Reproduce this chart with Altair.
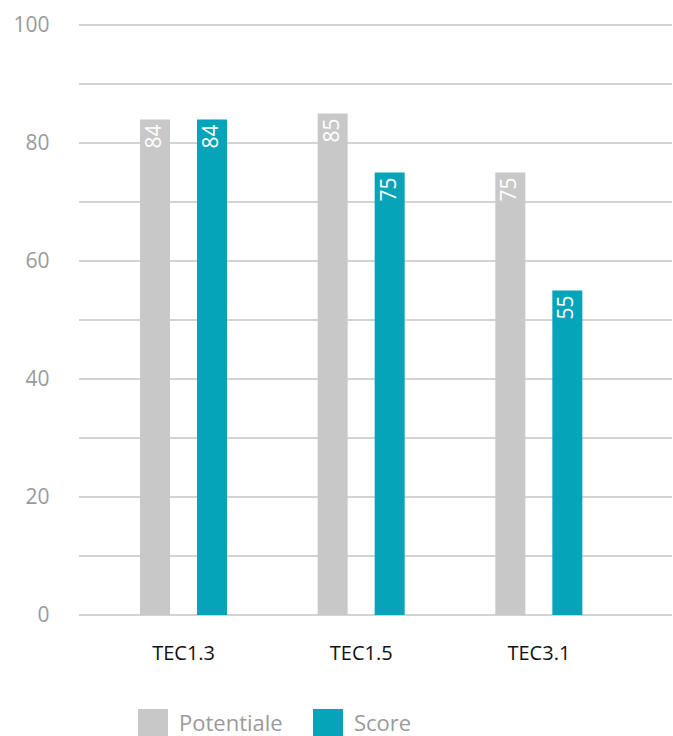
import altair as alt
import pandas as pd

categories = ["TEC1.3", "TEC1.5", "TEC3.1"]
potentiale = [84, 85, 75]
score = [84, 75, 55]
series = ["Potentiale", "Score"]
colors = ["#c8c8c8", "#05a4b9"]
grid_values = list(range(0, 101, 10))

rows = []
for i, cat in enumerate(categories):
    rows.append({"categoria": cat, "serie": "Potentiale", "valore": potentiale[i]})
    rows.append({"categoria": cat, "serie": "Score", "valore": score[i]})
df = pd.DataFrame(rows)
grid_df = pd.DataFrame({"valore": grid_values})

FONT = "Open Sans"
W, H = 593, 590

y_scale = alt.Scale(domain=[0, 100], nice=False)
y_axis = alt.Axis(
    values=grid_values,
    labelExpr="datum.value % 20 == 0 ? datum.label : ''",
    labelFont=FONT,
    labelFontSize=21,
    labelColor="#9a9a9a",
    labelPadding=30,
    ticks=False,
    domain=False,
    grid=False,
)

x = alt.X(
    "categoria:N",
    sort=categories,
    title=None,
    scale=alt.Scale(range=[15.75, 548.75], paddingInner=0, paddingOuter=0),
    axis=alt.Axis(
        labelAngle=0,
        labelFont=FONT,
        labelFontSize=20,
        labelColor="#111111",
        labelPadding=28,
        ticks=False,
        domain=False,
        grid=False,
    ),
)
x_off = alt.XOffset(
    "serie:N",
    sort=series,
    scale=alt.Scale(range=[45.25, 132.25], paddingInner=0.4737, paddingOuter=0),
)
y = alt.Y("valore:Q", title=None, scale=y_scale, axis=y_axis)

# horizontal gridlines across the whole plot width
grid = alt.Chart(grid_df).mark_rule(color="#a8a8a8", strokeWidth=1.2).encode(
    y=alt.Y("valore:Q", title=None, scale=y_scale, axis=y_axis),
    x=alt.value(0),
    x2=alt.value(W),
)

base = alt.Chart(df).encode(x=x, xOffset=x_off, y=y)

bars = base.mark_bar().encode(
    color=alt.Color(
        "serie:N",
        sort=series,
        scale=alt.Scale(domain=series, range=colors),
        legend=alt.Legend(
            title=None,
            orient="none",
            legendX=59,
            legendY=684,
            direction="horizontal",
            symbolType="square",
            symbolSize=900,
            symbolStrokeWidth=0,
            labelFont=FONT,
            labelFontSize=22,
            labelColor="#9a9a9a",
            labelOffset=11,
            columnPadding=30,
            padding=0,
        ),
    )
)

labels = base.mark_text(
    angle=270,
    align="right",
    baseline="middle",
    dx=-5,
    color="white",
    font=FONT,
    fontSize=21,
).encode(text="valore:Q")

chart = (
    alt.layer(grid, bars, labels)
    .properties(
        width=W,
        height=H,
        padding={"left": 79, "top": 25, "right": 1, "bottom": 121},
        autosize=alt.AutoSizeParams(type="none"),
        background="white",
    )
    .configure_view(stroke=None)
)

chart.save("out.html", embed_options={"renderer": "svg", "actions": False})
